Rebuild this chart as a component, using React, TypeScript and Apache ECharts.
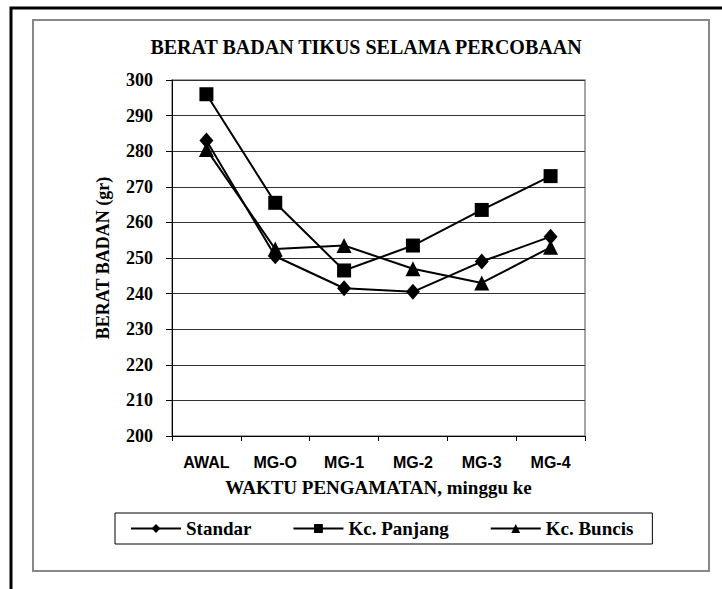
import React, { useEffect, useRef } from "react";
import * as echarts from "echarts";

const categories = ["AWAL", "MG-O", "MG-1", "MG-2", "MG-3", "MG-4"];
const standar = [283, 250.5, 241.5, 240.5, 249, 256];
const kcPanjang = [296, 265.5, 246.5, 253.5, 263.5, 273];
const kcBuncis = [280.5, 252.5, 253.5, 247, 243, 253];
const seriesNames = ["Standar", "Kc. Panjang", "Kc. Buncis"];
const yTicks = { min: 200, max: 300, interval: 10 };

const SERIF = "'Liberation Serif', 'Times New Roman', serif";
const SANS = "'Liberation Sans', Arial, sans-serif";

export default function App() {
  const ref = useRef<HTMLDivElement>(null);
  useEffect(() => {
    document.body.style.margin = "0";
    const chart = echarts.init(ref.current!, null, { renderer: "svg" });
    const mkSeries = (name: string, data: number[], symbol: string, size: any) => ({
      name,
      type: "line",
      data,
      symbol,
      symbolSize: size,
      itemStyle: { color: "#000" },
      lineStyle: { color: "#000", width: 2 },
      z: 3,
    });
    chart.setOption({
      animation: false,
      backgroundColor: "#fff",
      title: {
        text: "BERAT BADAN TIKUS SELAMA PERCOBAAN",
        left: 366,
        textAlign: "center",
        top: 37,
        padding: 0,
        textStyle: { fontFamily: SERIF, fontWeight: "bold", fontSize: 20, color: "#000" },
      },
      graphic: [
        {
          type: "rect",
          shape: { x: 11, y: 8, width: 800, height: 700 },
          style: { fill: "none", stroke: "#000", lineWidth: 3 },
          z: 0,
        },
        {
          type: "rect",
          shape: { x: 33, y: 20, width: 676, height: 551 },
          style: { fill: "none", stroke: "#888", lineWidth: 2 },
          z: 0,
        },
      ],
      legend: {
        data: seriesNames,
        left: 115,
        top: 513,
        orient: "horizontal",
        padding: [5, 19, 5, 15],
        itemGap: 41,
        itemWidth: 50,
        itemHeight: 11,
        borderColor: "#000",
        borderWidth: 1,
        textStyle: { fontFamily: SERIF, fontWeight: "bold", fontSize: 19, color: "#000", lineHeight: 21 },
      },
      grid: {
        left: 172,
        top: 80,
        right: 137,
        bottom: 153,
        show: true,
        borderColor: "#888",
        borderWidth: 1.5,
        backgroundColor: "transparent",
      },
      xAxis: {
        type: "category",
        data: categories,
        boundaryGap: true,
        name: "WAKTU PENGAMATAN, minggu ke",
        nameLocation: "middle",
        nameGap: 42,
        nameTextStyle: { fontFamily: SERIF, fontWeight: "bold", fontSize: 19, color: "#000" },
        axisLine: { lineStyle: { color: "#000", width: 1 } },
        axisTick: { show: true, length: 5, lineStyle: { color: "#000" } },
        axisLabel: { fontFamily: SANS, fontWeight: "bold", fontSize: 16, color: "#000", margin: 18, interval: 0 },
        splitLine: { show: false },
      },
      yAxis: {
        type: "value",
        min: yTicks.min,
        max: yTicks.max,
        interval: yTicks.interval,
        name: "BERAT BADAN (gr)",
        nameLocation: "middle",
        nameGap: 60,
        nameTextStyle: { fontFamily: SERIF, fontWeight: "bold", fontSize: 18, color: "#000" },
        axisLine: { show: true, lineStyle: { color: "#000", width: 1 } },
        axisTick: { show: true, length: 6, lineStyle: { color: "#000" } },
        axisLabel: { fontFamily: SERIF, fontWeight: "bold", fontSize: 18, color: "#000", margin: 19 },
        splitLine: { show: true, lineStyle: { color: "#333", width: 1 } },
      },
      series: [
        mkSeries(seriesNames[0], standar, "diamond", [14, 16]),
        mkSeries(seriesNames[1], kcPanjang, "rect", 14),
        mkSeries(seriesNames[2], kcBuncis, "triangle", [15, 15]),
      ],
    });
    return () => chart.dispose();
  }, []);
  return <div ref={ref} style={{ width: 722, height: 589 }} />;
}
